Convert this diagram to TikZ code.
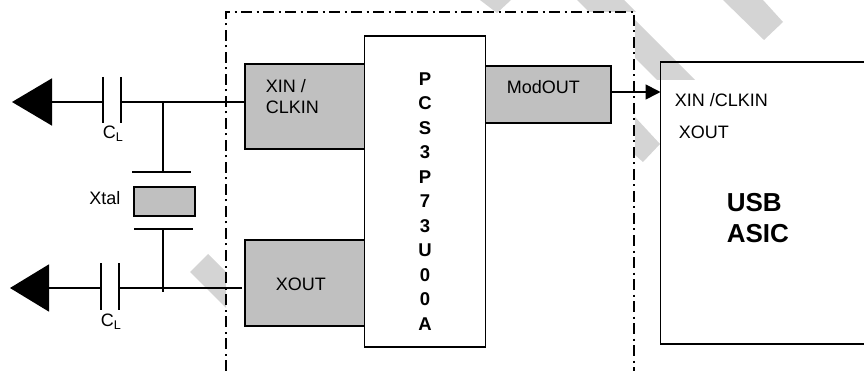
\documentclass[tikz,border=0pt]{standalone}
\usepackage{fontspec}
\setmainfont{Liberation Sans}
\usetikzlibrary{arrows.meta}

\definecolor{blockgray}{HTML}{C0C0C0}
\definecolor{smudgegray}{HTML}{D4D4D4}

\begin{document}
\begin{tikzpicture}[x=1pt,y=-1pt,>=Triangle,line width=1.7pt,font=\fontsize{18}{20}\selectfont]

    \tikzstyle{block}=[draw=black,fill=blockgray,inner sep=0pt,outer sep=0pt]
    \tikzstyle{chip}=[draw=black,inner sep=0pt,outer sep=0pt]
    \tikzstyle{smudge}=[fill=smudgegray,draw=none]
    \tikzstyle{txt}=[inner sep=0pt,anchor=west]
    \tikzstyle{boldtxt}=[txt,font=\fontsize{26}{31}\selectfont\bfseries,align=left]
    \tikzstyle{frame}=[line width=1.7pt,dash pattern=on 11pt off 4.5pt on 2pt off 4.5pt]

    \useasboundingbox (0,0) rectangle (864,371);

    % smudges behind the drawing
    \fill[smudge] (480,0) -- (511,0) -- (497,13) -- cycle;
    \fill[smudge] (577,0) -- (624,0) -- (636,12) -- (589,12) -- cycle;
    \fill[smudge] (635,20) -- (695,80) -- (657,80) -- (635,58) -- cycle;
    \fill[smudge] (723,0) -- (763,0) -- (783,22) -- (764,40) -- cycle;
    \fill[smudge] (635,117) -- (660,144) -- (643,162) -- (635,155) -- cycle;
    \fill[smudge] (208,254) -- (226,272) -- (226,308) -- (190,272) -- cycle;

    % dash-dot outline, open at the bottom
    \draw[frame] (226,371) -- (226,12) -- (634,12) -- (634,371);

    \node[block,minimum width=120pt,minimum height=85pt] (xin)  at (305,106.5) {};
    \node[block,minimum width=120pt,minimum height=86pt] (xout) at (305,283)   {};
    \node[block,minimum width=126pt,minimum height=57pt] (mod)  at (548,94.5)  {};
    \node[chip,fill=white,minimum width=121pt,minimum height=311pt] (pcs)  at (425,191.5) {};
    \node[chip,minimum width=206pt,minimum height=282pt] (asic) at (763.5,203) {};
    \node[block,minimum width=61pt,minimum height=29pt]  (xtal) at (164.5,201.5) {};

    \coordinate (tipa) at (12,102);
    \coordinate (capal) at (103,102);
    \coordinate (capar) at (121,102);
    \coordinate (junca) at (163,102);
    \coordinate (tipb) at (10,288);
    \coordinate (capbl) at (101,288);
    \coordinate (capbr) at (119,288);
    \coordinate (juncb) at (163,288);
    \coordinate (wireb) at (242,288);
    \coordinate (plata) at (163,172);
    \coordinate (platb) at (163,229);

    \draw[->,arrows={-Triangle[length=40pt,width=47pt]}] (capal) -- (tipa);
    \draw[->,arrows={-Triangle[length=39pt,width=47pt]}] (capbl) -- (tipb);
    \draw (capar) -- (xin.west |- capar);
    \draw (capbr) -- (wireb);
    \draw (junca) -- (plata);
    \draw (platb) -- (163,292);
    \draw[line width=1.3pt] (plata) +(-31,0) -- +(28,0);
    \draw (platb) +(-29,0) -- +(30,0);
    \draw (capal) +(0,-25) -- +(0,21);
    \draw (capar) +(0,-25) -- +(0,21);
    \draw (capbl) +(0,-25) -- +(0,22);
    \draw (capbr) +(0,-25) -- +(0,22);
    \draw[->,arrows={-Triangle[length=15pt,width=15pt]}] (mod.east |- 0,92) -- (asic.west |- 0,92);

    \node[txt] (labxin)  at (265,96.5) {\parbox[c]{100pt}{\fontsize{18}{21.5}\selectfont XIN /\\CLKIN}};
    \node[txt] (labxout) at (275,284)  {XOUT};
    \node[txt] (labmod)  at (506,87)   {ModOUT};
    \node[txt] (labxtal) at (88.5,198) {Xtal};
    \node[txt] (labca)   at (102,134)  {C\textsubscript{L}};
    \node[txt] (labcb)   at (100,322)  {C\textsubscript{L}};
    \node[txt] (labaxin) at (674,100.5) {XIN /CLKIN};
    \node[txt] (labaxou) at (678,132)  {XOUT};
    \node[boldtxt] (labusb) at (726,218) {USB\\ASIC};
    \node[inner sep=0pt,align=center,font=\fontsize{18.5}{24.5}\selectfont\bfseries] (labpcs) at (425,201.5)
        {P\\C\\S\\3\\P\\7\\3\\U\\0\\0\\A};
\end{tikzpicture}
\end{document}
